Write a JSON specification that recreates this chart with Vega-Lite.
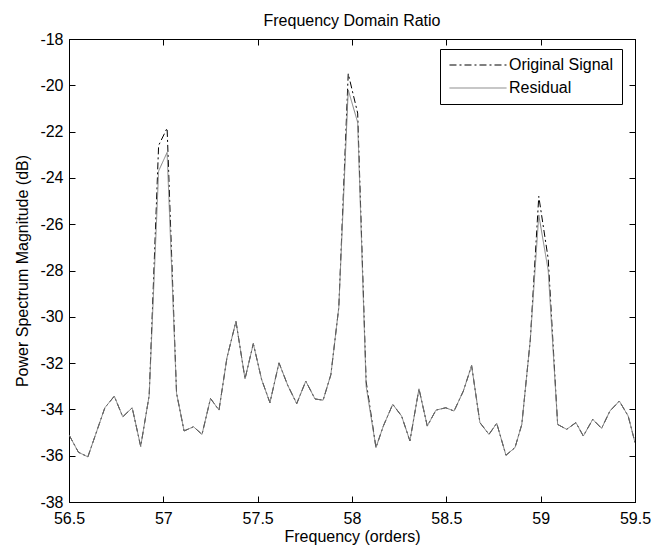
{
  "$schema": "https://vega.github.io/schema/vega-lite/v6.json",
  "width": 566,
  "height": 463,
  "autosize": {"type": "none"},
  "padding": {"left": 69, "top": 39, "right": 28, "bottom": 47},
  "background": "white",
  "config": {
    "font": "Liberation Sans",
    "view": {"stroke": "black", "strokeWidth": 1},
    "axis": {"grid": false, "domainColor": "black", "tickColor": "black", "labelColor": "black", "titleColor": "black", "labelFontSize": 16, "titleFontSize": 16, "titleFontWeight": "normal", "tickSize": -6, "labelFont": "Liberation Sans", "titleFont": "Liberation Sans"},
    "legend": {"title": null, "orient": "none", "legendX": 371, "legendY": 10, "strokeColor": "black", "fillColor": "white", "padding": 8, "labelFontSize": 16, "labelColor": "black", "labelFont": "Liberation Sans", "symbolType": "M-5,0H5", "symbolSize": 130, "symbolStrokeWidth": 1, "rowPadding": 7, "symbolOffset": 22, "labelOffset": 23, "cornerRadius": 0}
  },
  "title": {"text": "Frequency Domain Ratio", "fontSize": 16, "fontWeight": "normal", "color": "black", "offset": 2, "font": "Liberation Sans"},
  "data": {"values": [
    {"f": 56.5, "Original Signal": -35.1, "Residual": -35.1},
    {"f": 56.55, "Original Signal": -35.85, "Residual": -35.85},
    {"f": 56.6, "Original Signal": -36.05, "Residual": -36.05},
    {"f": 56.69, "Original Signal": -33.93, "Residual": -33.93},
    {"f": 56.74, "Original Signal": -33.43, "Residual": -33.43},
    {"f": 56.785, "Original Signal": -34.32, "Residual": -34.32},
    {"f": 56.835, "Original Signal": -33.93, "Residual": -33.93},
    {"f": 56.88, "Original Signal": -35.6, "Residual": -35.6},
    {"f": 56.925, "Original Signal": -33.4, "Residual": -33.4},
    {"f": 56.975, "Original Signal": -22.6, "Residual": -23.7},
    {"f": 57.02, "Original Signal": -21.85, "Residual": -22.9},
    {"f": 57.07, "Original Signal": -33.3, "Residual": -33.3},
    {"f": 57.11, "Original Signal": -34.93, "Residual": -34.93},
    {"f": 57.16, "Original Signal": -34.75, "Residual": -34.75},
    {"f": 57.205, "Original Signal": -35.08, "Residual": -35.08},
    {"f": 57.25, "Original Signal": -33.53, "Residual": -33.53},
    {"f": 57.295, "Original Signal": -34.03, "Residual": -34.03},
    {"f": 57.337, "Original Signal": -31.78, "Residual": -31.78},
    {"f": 57.385, "Original Signal": -30.2, "Residual": -30.2},
    {"f": 57.433, "Original Signal": -32.68, "Residual": -32.68},
    {"f": 57.477, "Original Signal": -31.16, "Residual": -31.16},
    {"f": 57.521, "Original Signal": -32.71, "Residual": -32.71},
    {"f": 57.565, "Original Signal": -33.71, "Residual": -33.71},
    {"f": 57.613, "Original Signal": -31.99, "Residual": -31.99},
    {"f": 57.66, "Original Signal": -32.97, "Residual": -32.97},
    {"f": 57.707, "Original Signal": -33.75, "Residual": -33.75},
    {"f": 57.755, "Original Signal": -32.78, "Residual": -32.78},
    {"f": 57.804, "Original Signal": -33.55, "Residual": -33.55},
    {"f": 57.847, "Original Signal": -33.6, "Residual": -33.6},
    {"f": 57.888, "Original Signal": -32.5, "Residual": -32.5},
    {"f": 57.93, "Original Signal": -29.6, "Residual": -29.6},
    {"f": 57.98, "Original Signal": -19.5, "Residual": -20.2},
    {"f": 58.03, "Original Signal": -21.2, "Residual": -21.6},
    {"f": 58.075, "Original Signal": -32.8, "Residual": -33.0},
    {"f": 58.127, "Original Signal": -35.65, "Residual": -35.65},
    {"f": 58.166, "Original Signal": -34.72, "Residual": -34.72},
    {"f": 58.216, "Original Signal": -33.78, "Residual": -33.78},
    {"f": 58.263, "Original Signal": -34.29, "Residual": -34.29},
    {"f": 58.307, "Original Signal": -35.36, "Residual": -35.36},
    {"f": 58.355, "Original Signal": -33.11, "Residual": -33.11},
    {"f": 58.399, "Original Signal": -34.72, "Residual": -34.72},
    {"f": 58.445, "Original Signal": -34.03, "Residual": -34.03},
    {"f": 58.497, "Original Signal": -33.93, "Residual": -33.93},
    {"f": 58.541, "Original Signal": -34.07, "Residual": -34.07},
    {"f": 58.59, "Original Signal": -33.21, "Residual": -33.21},
    {"f": 58.634, "Original Signal": -32.11, "Residual": -32.11},
    {"f": 58.678, "Original Signal": -34.57, "Residual": -34.57},
    {"f": 58.726, "Original Signal": -35.08, "Residual": -35.08},
    {"f": 58.767, "Original Signal": -34.6, "Residual": -34.6},
    {"f": 58.816, "Original Signal": -35.98, "Residual": -35.98},
    {"f": 58.864, "Original Signal": -35.65, "Residual": -35.65},
    {"f": 58.9, "Original Signal": -34.65, "Residual": -34.65},
    {"f": 58.945, "Original Signal": -31.0, "Residual": -31.0},
    {"f": 58.99, "Original Signal": -24.8, "Residual": -25.6},
    {"f": 59.04, "Original Signal": -27.5, "Residual": -28.0},
    {"f": 59.09, "Original Signal": -34.65, "Residual": -34.65},
    {"f": 59.138, "Original Signal": -34.86, "Residual": -34.86},
    {"f": 59.187, "Original Signal": -34.57, "Residual": -34.57},
    {"f": 59.226, "Original Signal": -35.15, "Residual": -35.15},
    {"f": 59.276, "Original Signal": -34.43, "Residual": -34.43},
    {"f": 59.323, "Original Signal": -34.82, "Residual": -34.82},
    {"f": 59.367, "Original Signal": -34.07, "Residual": -34.07},
    {"f": 59.417, "Original Signal": -33.64, "Residual": -33.64},
    {"f": 59.464, "Original Signal": -34.29, "Residual": -34.29},
    {"f": 59.5, "Original Signal": -35.43, "Residual": -35.43}
  ]},
  "transform": [{"fold": ["Original Signal", "Residual"], "as": ["series", "power"]}],
  "layer": [
    {
      "mark": {"type": "line", "strokeWidth": 1, "clip": true},
      "encoding": {
        "x": {"field": "f", "type": "quantitative", "scale": {"domain": [56.5, 59.5], "nice": false, "zero": false},
          "axis": {"orient": "bottom", "values": [56.5, 57, 57.5, 58, 58.5, 59, 59.5], "labelExpr": "datum.value + ''", "labelPadding": 14, "title": "Frequency (orders)", "titlePadding": 2, "labelFlush": false}},
        "y": {"field": "power", "type": "quantitative", "scale": {"domain": [-38, -18], "nice": false, "zero": false},
          "axis": {"orient": "left", "values": [-38, -36, -34, -32, -30, -28, -26, -24, -22, -20, -18], "labelExpr": "datum.value + ''", "labelPadding": 12, "title": "Power Spectrum Magnitude (dB)", "titlePadding": 9, "labelFlush": false}},
        "color": {"field": "series", "type": "nominal", "scale": {"domain": ["Original Signal", "Residual"], "range": ["black", "#7f7f7f"]}},
        "strokeDash": {"field": "series", "type": "nominal", "scale": {"domain": ["Original Signal", "Residual"], "range": [[7, 3, 2, 3], [1, 0]]}}
      }
    },
    {
      "mark": {"type": "point", "opacity": 0},
      "encoding": {
        "x": {"field": "f", "type": "quantitative", "scale": {"domain": [56.5, 59.5], "nice": false, "zero": false},
          "axis": {"orient": "top", "values": [56.5, 57, 57.5, 58, 58.5, 59, 59.5], "labels": false, "title": null}},
        "y": {"field": "power", "type": "quantitative", "scale": {"domain": [-38, -18], "nice": false, "zero": false},
          "axis": {"orient": "right", "values": [-38, -36, -34, -32, -30, -28, -26, -24, -22, -20, -18], "labels": false, "title": null}}
      }
    }
  ],
  "resolve": {"axis": {"x": "independent", "y": "independent"}}
}
